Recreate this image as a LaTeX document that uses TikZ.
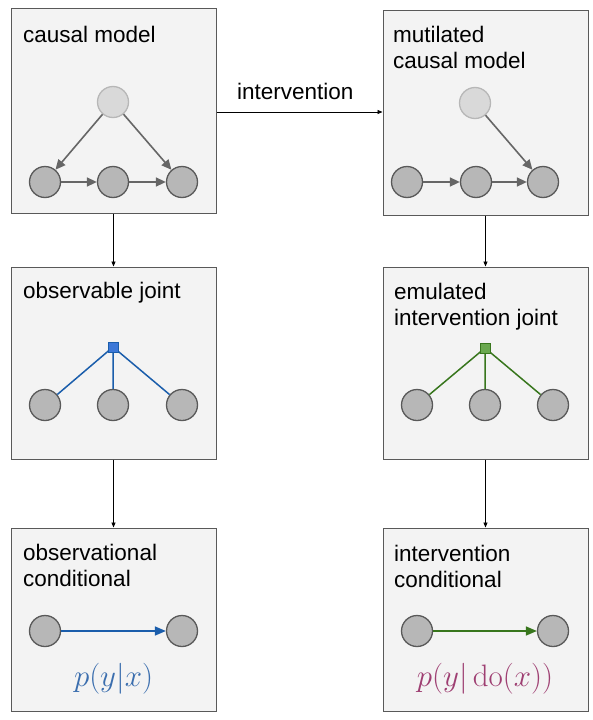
\RequirePackage{fix-cm}
\documentclass[tikz,border=0pt]{standalone}
\usepackage[no-math]{fontspec}
\setmainfont{Liberation Sans}
\usetikzlibrary{arrows.meta}
\definecolor{boxfill}{HTML}{F3F3F3}
\definecolor{boxline}{HTML}{595959}
\definecolor{varfill}{HTML}{B7B7B7}
\definecolor{varline}{HTML}{595959}
\definecolor{hidfill}{HTML}{D9D9D9}
\definecolor{hidline}{HTML}{B7B7B7}
\definecolor{edgegray}{HTML}{666666}
\definecolor{obsblue}{HTML}{1A5DAB}
\definecolor{obsfill}{HTML}{3C78D8}
\definecolor{obsmath}{HTML}{3B6EAE}
\definecolor{intgreen}{HTML}{38761D}
\definecolor{intfill}{HTML}{6AA84F}
\definecolor{intmath}{HTML}{9E3F72}
\begin{document}
\begin{tikzpicture}[x=1pt,y=-1pt,
box/.style={draw=boxline,fill=boxfill,line width=1pt,minimum width=205pt,inner sep=0},
title/.style={anchor=base west,align=left,inner sep=0,font=\fontsize{22.5}{26}\selectfont},
var/.style={circle,draw=varline,fill=varfill,line width=1.3pt,minimum size=31pt,inner sep=0},
hid/.style={var,draw=hidline,fill=hidfill},
fac/.style={rectangle,line width=1pt,minimum size=10pt,inner sep=0},
cause/.style={draw=edgegray,line width=1.6pt,-{Triangle[length=10pt,width=9pt]}},
conn/.style={draw=black,line width=0.8pt,-{Triangle[length=5pt,width=4pt]}},
cond/.style={line width=1.6pt,-{Triangle[length=11pt,width=9pt]}},
prob/.style={anchor=base,inner sep=0,font=\fontsize{31}{34}\selectfont}]
\useasboundingbox (0,0) rectangle (593,720);
% boxes
\node[box,minimum height=205pt] (m1) at (113.5,110.5) {};
\node[box,minimum height=205pt] (m2) at (485.5,112.5) {};
\node[box,minimum height=192pt] (j1) at (113.5,363) {};
\node[box,minimum height=192pt] (j2) at (485.5,363) {};
\node[box,minimum height=183pt] (c1) at (113.5,619.5) {};
\node[box,minimum height=183pt] (c2) at (485.5,619.5) {};
% titles (two-line ones sit on the baseline of their last line)
\node[title] at (23,42) {causal model};
\node[title] at (393,68) {mutilated\\causal model};
\node[title] at (23,298) {observable joint};
\node[title] at (394,325) {emulated\\intervention joint};
\node[title] at (23,586) {observational\\conditional};
\node[title] at (394,587) {intervention\\conditional};
% connectors between boxes
\coordinate (iv) at (300,112);
\draw[conn] (m1.east|-iv) -- (m2.west|-iv);
\node[title] (ivlabel) at (237,99) {intervention};
\draw[conn] (m1.south) -- (j1.north);
\draw[conn] (j1.south) -- (c1.north);
\draw[conn] (m2.south) -- (j2.north);
\draw[conn] (j2.south) -- (c2.north);
% causal model
\node[hid] (u1) at (113,102) {};
\node[var] (a1) at (45,182) {};
\node[var] (b1) at (113,182) {};
\node[var] (d1) at (182,182) {};
\draw[cause] (u1) -- (a1);
\draw[cause] (u1) -- (d1);
\draw[cause] (a1) -- (b1);
\draw[cause] (b1) -- (d1);
% mutilated causal model
\node[hid] (u2) at (475,103) {};
\node[var] (a2) at (407,182) {};
\node[var] (b2) at (476,182) {};
\node[var] (d2) at (543,182) {};
\draw[cause] (u2) -- (d2);
\draw[cause] (a2) -- (b2);
\draw[cause] (b2) -- (d2);
% observable joint
\node[var] (ja1) at (45,405) {};
\node[var] (jb1) at (113,405) {};
\node[var] (jd1) at (182,405) {};
\draw[obsblue,line width=1.5pt] (ja1) -- (113,347) -- (jd1) (113,347) -- (jb1);
\node[fac,draw=obsblue,fill=obsfill] (f1) at (113,347) {};
% emulated intervention joint
\node[var] (ja2) at (417,405) {};
\node[var] (jb2) at (485,405) {};
\node[var] (jd2) at (553,405) {};
\draw[intgreen,line width=1.5pt] (ja2) -- (485,348) -- (jd2) (485,348) -- (jb2);
\node[fac,draw=intgreen,fill=intfill] (f2) at (485,348) {};
% conditionals
\node[var] (x1) at (45,631) {};
\node[var] (y1) at (182,631) {};
\draw[cond,obsblue] (x1) -- (y1);
\node[prob,text=obsmath] (p1) at (113.5,686) {$p(y|x)$};
\node[var] (x2) at (417,631) {};
\node[var] (y2) at (553,631) {};
\draw[cond,intgreen] (x2) -- (y2);
\node[prob,text=intmath] (p2) at (485,686) {$p(y|\,\mathrm{do}(x))$};
\end{tikzpicture}
\end{document}
